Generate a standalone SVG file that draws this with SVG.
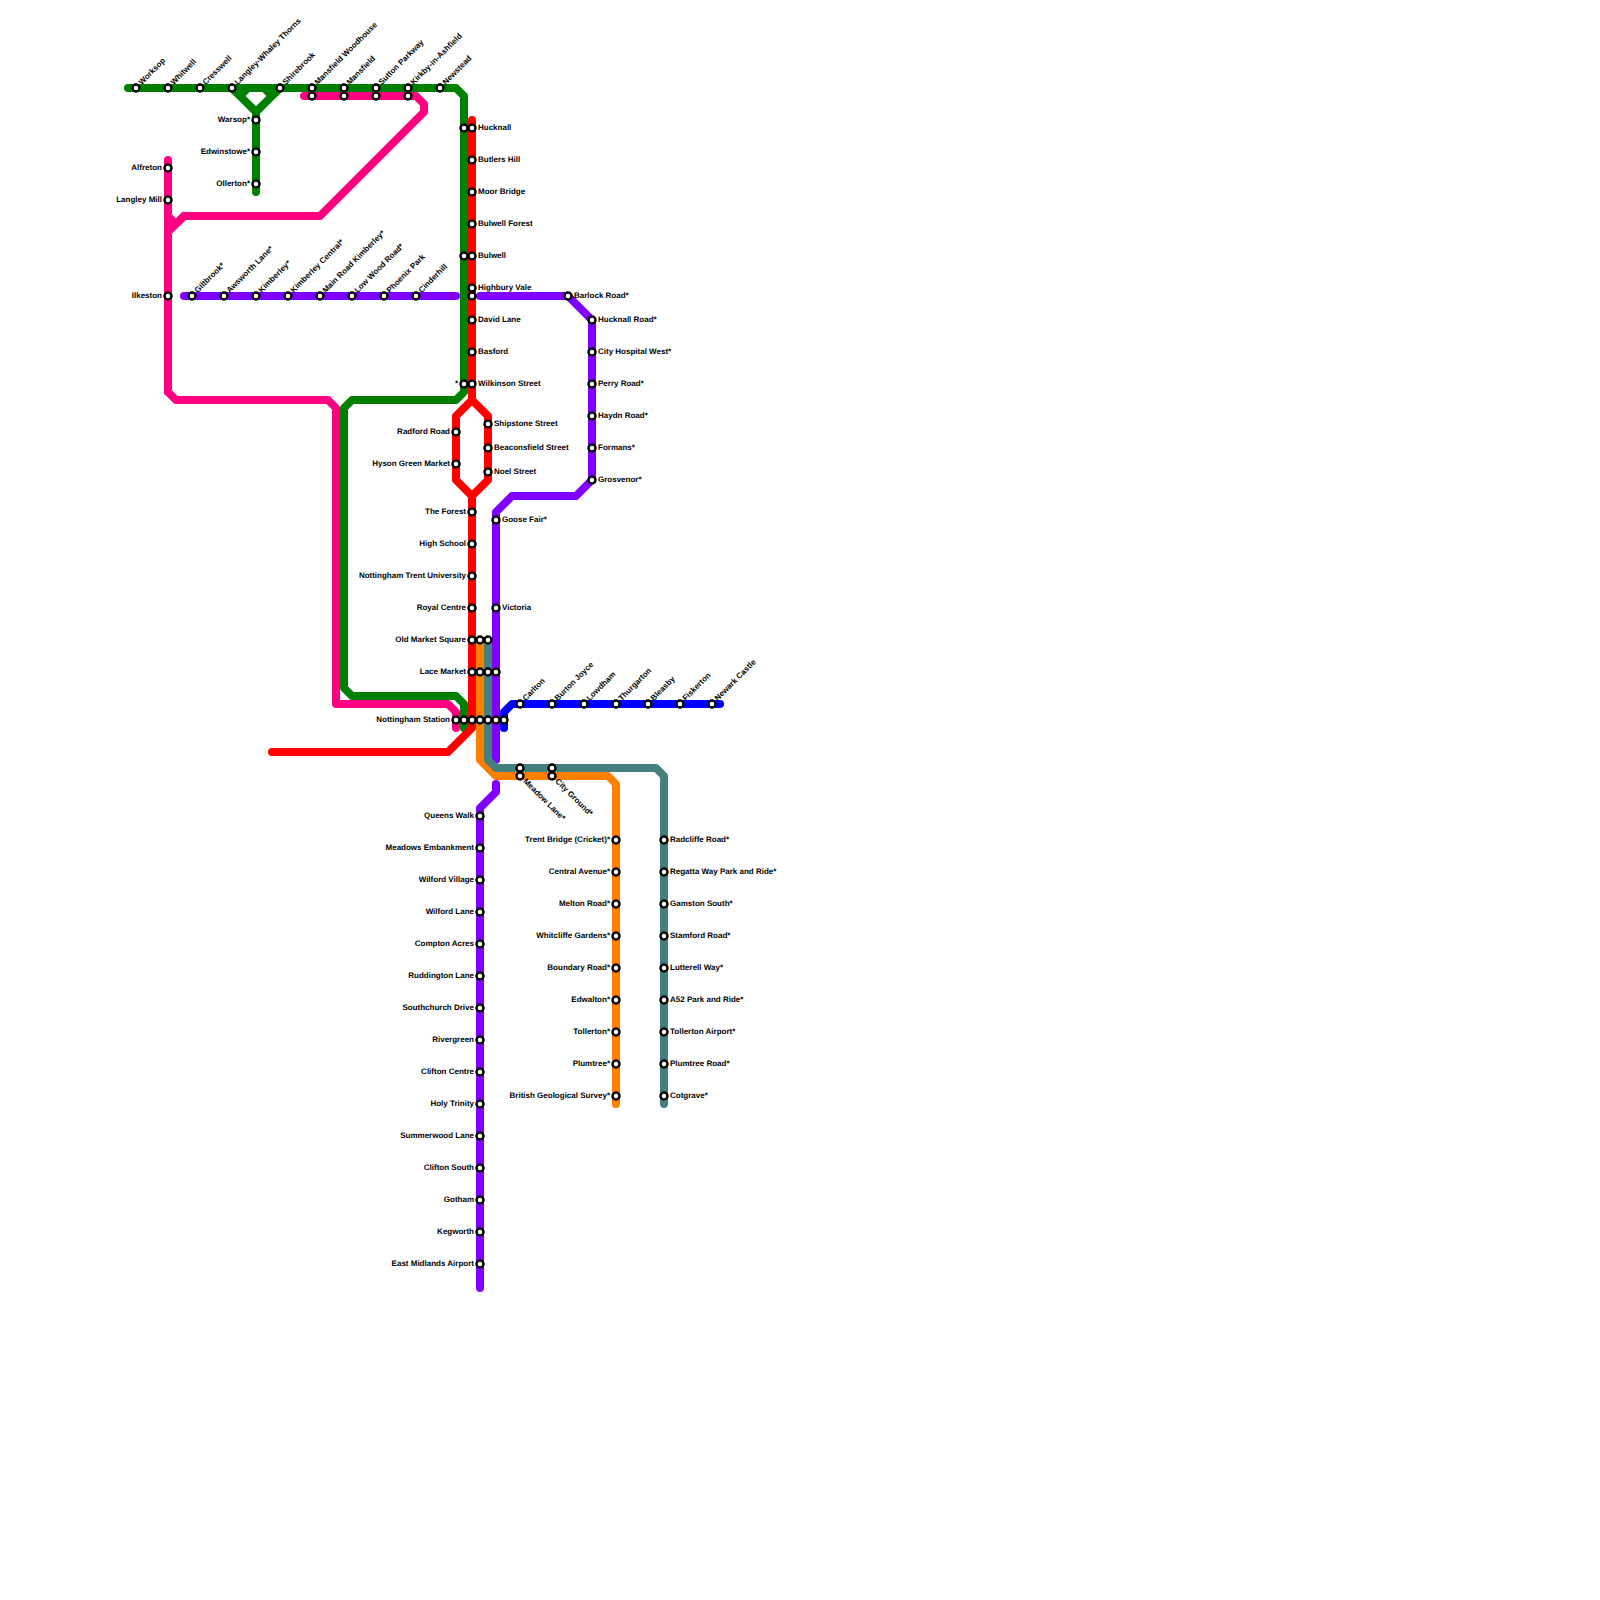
<svg xmlns="http://www.w3.org/2000/svg" width="1600" height="1600" viewBox="0 0 1600 1600">
<style>
text{font-family:"Liberation Sans",Arial,sans-serif;font-size:8px;font-weight:700;fill:#000;text-rendering:geometricPrecision}
.e{text-anchor:end}
.l{fill:none;stroke-width:8;stroke-linecap:round;stroke-linejoin:round}
circle{fill:#fff;stroke:#000;stroke-width:2.4}
</style>
<rect width="1600" height="1600" fill="#fff"/>
<g id="stars">
<text class="e" x="306" y="102">*</text><text class="e" x="338" y="102">*</text><text class="e" x="370" y="102">*</text><text class="e" x="402" y="102">*</text>
</g>
<g id="connectors">
<path class="l" stroke="#ff0080" d="M168 160V392L176 400H328L336 408V704H448L456 712V728"/>
<path class="l" stroke="#ff0080" d="M168 392V232L184 216H320L424 112V104L416 96H304"/>
<path class="l" stroke="#ff0080" d="M168 208V216L176 224L184 216"/>
<path class="l" stroke="#008000" d="M128 88H456L464 96V392L456 400H352L344 408V688L352 696H456L464 704V728"/>
<path class="l" stroke="#008000" d="M232 88L256 112V192M280 88L256 112"/>
<path class="l" stroke="#008000" d="M232 88L240 96L248 88M264 88L272 96L280 88"/>
<path class="l" stroke="#8000ff" d="M184 296H456"/>
<path class="l" stroke="#8000ff" d="M480 296H568L592 320V480L576 496H512L496 512V760"/>
<path class="l" stroke="#8000ff" d="M496 784V792L480 808V1288"/>
<path class="l" stroke="#ff0000" d="M472 120V400L456 416V480L472 496V728L448 752H272"/>
<path class="l" stroke="#ff0000" d="M472 400L488 416V480L472 496"/>
<path class="l" stroke="#ff8000" d="M480 640V760L496 776H608L616 784V1104"/>
<path class="l" stroke="#458080" d="M488 640V760L496 768H656L664 776V1104"/>
<path class="l" stroke="#0000ff" d="M504 728V712L512 704H720"/>
</g>
<g id="stations-north">
<g id="worksop"><circle cx="136" cy="88" r="3.5"/><text x="136" y="88" dx="6" dy="2" transform="rotate(-45 136 88)">Worksop</text></g>
<g id="whitwell"><circle cx="168" cy="88" r="3.5"/><text x="168" y="88" dx="6" dy="2" transform="rotate(-45 168 88)">Whitwell</text></g>
<g id="cresswell"><circle cx="200" cy="88" r="3.5"/><text x="200" y="88" dx="6" dy="2" transform="rotate(-45 200 88)">Cresswell</text></g>
<g id="langley-whaley"><circle cx="232" cy="88" r="3.5"/><text x="232" y="88" dx="6" dy="2" transform="rotate(-45 232 88)">Langley-Whaley Thorns</text></g>
<g id="shirebrook"><circle cx="280" cy="88" r="3.5"/><text x="280" y="88" dx="6" dy="2" transform="rotate(-45 280 88)">Shirebrook</text></g>
<g id="mansfield-woodhouse"><circle cx="312" cy="88" r="3.5"/><circle cx="312" cy="96" r="3.5"/><text x="312" y="88" dx="6" dy="2" transform="rotate(-45 312 88)">Mansfield Woodhouse</text></g>
<g id="mansfield"><circle cx="344" cy="88" r="3.5"/><circle cx="344" cy="96" r="3.5"/><text x="344" y="88" dx="6" dy="2" transform="rotate(-45 344 88)">Mansfield</text></g>
<g id="sutton-parkway"><circle cx="376" cy="88" r="3.5"/><circle cx="376" cy="96" r="3.5"/><text x="376" y="88" dx="6" dy="2" transform="rotate(-45 376 88)">Sutton Parkway</text></g>
<g id="kirkby"><circle cx="408" cy="88" r="3.5"/><circle cx="408" cy="96" r="3.5"/><text x="408" y="88" dx="6" dy="2" transform="rotate(-45 408 88)">Kirkby-in-Ashfield</text></g>
<g id="newstead"><circle cx="440" cy="88" r="3.5"/><text x="440" y="88" dx="6" dy="2" transform="rotate(-45 440 88)">Newstead</text></g>
<g id="warsop"><circle cx="256" cy="120" r="3.5"/><text class="e" x="250" y="122">Warsop*</text></g>
<g id="edwinstowe"><circle cx="256" cy="152" r="3.5"/><text class="e" x="250" y="154">Edwinstowe*</text></g>
<g id="ollerton"><circle cx="256" cy="184" r="3.5"/><text class="e" x="250" y="186">Ollerton*</text></g>
<g id="alfreton"><circle cx="168" cy="168" r="3.5"/><text class="e" x="162" y="170">Alfreton</text></g>
<g id="langley-mill"><circle cx="168" cy="200" r="3.5"/><text class="e" x="162" y="202">Langley Mill</text></g>
<g id="ilkeston"><circle cx="168" cy="296" r="3.5"/><text class="e" x="162" y="298">Ilkeston</text></g>
</g>
<g id="stations-west">
<g id="giltbrook"><circle cx="192" cy="296" r="3.5"/><text x="192" y="296" dx="6" dy="2" transform="rotate(-45 192 296)">Giltbrook*</text></g>
<g id="awsworth"><circle cx="224" cy="296" r="3.5"/><text x="224" y="296" dx="6" dy="2" transform="rotate(-45 224 296)">Awsworth Lane*</text></g>
<g id="kimberley"><circle cx="256" cy="296" r="3.5"/><text x="256" y="296" dx="6" dy="2" transform="rotate(-45 256 296)">Kimberley*</text></g>
<g id="kimberley-central"><circle cx="288" cy="296" r="3.5"/><text x="288" y="296" dx="6" dy="2" transform="rotate(-45 288 296)">Kimberley Central*</text></g>
<g id="main-road"><circle cx="320" cy="296" r="3.5"/><text x="320" y="296" dx="6" dy="2" transform="rotate(-45 320 296)">Main Road Kimberley*</text></g>
<g id="low-wood"><circle cx="352" cy="296" r="3.5"/><text x="352" y="296" dx="6" dy="2" transform="rotate(-45 352 296)">Low Wood Road*</text></g>
<g id="phoenix-park"><circle cx="384" cy="296" r="3.5"/><text x="384" y="296" dx="6" dy="2" transform="rotate(-45 384 296)">Phoenix Park</text></g>
<g id="cinderhill"><circle cx="416" cy="296" r="3.5"/><text x="416" y="296" dx="6" dy="2" transform="rotate(-45 416 296)">Cinderhill</text></g>
</g>
<g id="stations-red">
<g id="hucknall"><circle cx="464" cy="128" r="3.5"/><circle cx="472" cy="128" r="3.5"/><text x="478" y="130">Hucknall</text></g>
<g id="butlers-hill"><circle cx="472" cy="160" r="3.5"/><text x="478" y="162">Butlers Hill</text></g>
<g id="moor-bridge"><circle cx="472" cy="192" r="3.5"/><text x="478" y="194">Moor Bridge</text></g>
<g id="bulwell-forest"><circle cx="472" cy="224" r="3.5"/><text x="478" y="226">Bulwell Forest</text></g>
<g id="bulwell"><circle cx="464" cy="256" r="3.5"/><circle cx="472" cy="256" r="3.5"/><text x="478" y="258">Bulwell</text></g>
<g id="highbury-vale"><circle cx="472" cy="288" r="3.5"/><circle cx="472" cy="296" r="3.5"/><text x="478" y="290">Highbury Vale</text></g>
<g id="david-lane"><circle cx="472" cy="320" r="3.5"/><text x="478" y="322">David Lane</text></g>
<g id="basford"><circle cx="472" cy="352" r="3.5"/><text x="478" y="354">Basford</text></g>
<g id="wilkinson-street"><circle cx="464" cy="384" r="3.5"/><circle cx="472" cy="384" r="3.5"/><text x="478" y="386">Wilkinson Street</text><text class="e" x="458" y="386">*</text></g>
<g id="radford-road"><circle cx="456" cy="432" r="3.5"/><text class="e" x="450" y="434">Radford Road</text></g>
<g id="hyson-green"><circle cx="456" cy="464" r="3.5"/><text class="e" x="450" y="466">Hyson Green Market</text></g>
<g id="shipstone-street"><circle cx="488" cy="424" r="3.5"/><text x="494" y="426">Shipstone Street</text></g>
<g id="beaconsfield-street"><circle cx="488" cy="448" r="3.5"/><text x="494" y="450">Beaconsfield Street</text></g>
<g id="noel-street"><circle cx="488" cy="472" r="3.5"/><text x="494" y="474">Noel Street</text></g>
<g id="the-forest"><circle cx="472" cy="512" r="3.5"/><text class="e" x="466" y="514">The Forest</text></g>
<g id="high-school"><circle cx="472" cy="544" r="3.5"/><text class="e" x="466" y="546">High School</text></g>
<g id="ntu"><circle cx="472" cy="576" r="3.5"/><text class="e" x="466" y="578">Nottingham Trent University</text></g>
<g id="royal-centre"><circle cx="472" cy="608" r="3.5"/><text class="e" x="466" y="610">Royal Centre</text></g>
<g id="old-market-square"><circle cx="472" cy="640" r="3.5"/><circle cx="480" cy="640" r="3.5"/><circle cx="488" cy="640" r="3.5"/><text class="e" x="466" y="642">Old Market Square</text></g>
<g id="lace-market"><circle cx="472" cy="672" r="3.5"/><circle cx="480" cy="672" r="3.5"/><circle cx="488" cy="672" r="3.5"/><circle cx="496" cy="672" r="3.5"/><text class="e" x="466" y="674">Lace Market</text></g>
<g id="nottingham-station"><circle cx="456" cy="720" r="3.5"/><circle cx="464" cy="720" r="3.5"/><circle cx="472" cy="720" r="3.5"/><circle cx="480" cy="720" r="3.5"/><circle cx="488" cy="720" r="3.5"/><circle cx="496" cy="720" r="3.5"/><circle cx="504" cy="720" r="3.5"/><text class="e" x="450" y="722">Nottingham Station</text></g>
</g>
<g id="stations-purple">
<g id="barlock-road"><circle cx="568" cy="296" r="3.5"/><text x="574" y="298">Barlock Road*</text></g>
<g id="hucknall-road"><circle cx="592" cy="320" r="3.5"/><text x="598" y="322">Hucknall Road*</text></g>
<g id="city-hospital"><circle cx="592" cy="352" r="3.5"/><text x="598" y="354">City Hospital West*</text></g>
<g id="perry-road"><circle cx="592" cy="384" r="3.5"/><text x="598" y="386">Perry Road*</text></g>
<g id="haydn-road"><circle cx="592" cy="416" r="3.5"/><text x="598" y="418">Haydn Road*</text></g>
<g id="formans"><circle cx="592" cy="448" r="3.5"/><text x="598" y="450">Formans*</text></g>
<g id="grosvenor"><circle cx="592" cy="480" r="3.5"/><text x="598" y="482">Grosvenor*</text></g>
<g id="goose-fair"><circle cx="496" cy="520" r="3.5"/><text x="502" y="522">Goose Fair*</text></g>
<g id="victoria"><circle cx="496" cy="608" r="3.5"/><text x="502" y="610">Victoria</text></g>
<g id="queens-walk"><circle cx="480" cy="816" r="3.5"/><text class="e" x="474" y="818">Queens Walk</text></g>
<g id="meadows-embankment"><circle cx="480" cy="848" r="3.5"/><text class="e" x="474" y="850">Meadows Embankment</text></g>
<g id="wilford-village"><circle cx="480" cy="880" r="3.5"/><text class="e" x="474" y="882">Wilford Village</text></g>
<g id="wilford-lane"><circle cx="480" cy="912" r="3.5"/><text class="e" x="474" y="914">Wilford Lane</text></g>
<g id="compton-acres"><circle cx="480" cy="944" r="3.5"/><text class="e" x="474" y="946">Compton Acres</text></g>
<g id="ruddington-lane"><circle cx="480" cy="976" r="3.5"/><text class="e" x="474" y="978">Ruddington Lane</text></g>
<g id="southchurch-drive"><circle cx="480" cy="1008" r="3.5"/><text class="e" x="474" y="1010">Southchurch Drive</text></g>
<g id="rivergreen"><circle cx="480" cy="1040" r="3.5"/><text class="e" x="474" y="1042">Rivergreen</text></g>
<g id="clifton-centre"><circle cx="480" cy="1072" r="3.5"/><text class="e" x="474" y="1074">Clifton Centre</text></g>
<g id="holy-trinity"><circle cx="480" cy="1104" r="3.5"/><text class="e" x="474" y="1106">Holy Trinity</text></g>
<g id="summerwood-lane"><circle cx="480" cy="1136" r="3.5"/><text class="e" x="474" y="1138">Summerwood Lane</text></g>
<g id="clifton-south"><circle cx="480" cy="1168" r="3.5"/><text class="e" x="474" y="1170">Clifton South</text></g>
<g id="gotham"><circle cx="480" cy="1200" r="3.5"/><text class="e" x="474" y="1202">Gotham</text></g>
<g id="kegworth"><circle cx="480" cy="1232" r="3.5"/><text class="e" x="474" y="1234">Kegworth</text></g>
<g id="east-midlands-airport"><circle cx="480" cy="1264" r="3.5"/><text class="e" x="474" y="1266">East Midlands Airport</text></g>
</g>
<g id="stations-blue">
<g id="carlton"><circle cx="520" cy="704" r="3.5"/><text x="520" y="704" dx="6" dy="2" transform="rotate(-45 520 704)">Carlton</text></g>
<g id="burton-joyce"><circle cx="552" cy="704" r="3.5"/><text x="552" y="704" dx="6" dy="2" transform="rotate(-45 552 704)">Burton Joyce</text></g>
<g id="lowdham"><circle cx="584" cy="704" r="3.5"/><text x="584" y="704" dx="6" dy="2" transform="rotate(-45 584 704)">Lowdham</text></g>
<g id="thurgarton"><circle cx="616" cy="704" r="3.5"/><text x="616" y="704" dx="6" dy="2" transform="rotate(-45 616 704)">Thurgarton</text></g>
<g id="bleasby"><circle cx="648" cy="704" r="3.5"/><text x="648" y="704" dx="6" dy="2" transform="rotate(-45 648 704)">Bleasby</text></g>
<g id="fiskerton"><circle cx="680" cy="704" r="3.5"/><text x="680" y="704" dx="6" dy="2" transform="rotate(-45 680 704)">Fiskerton</text></g>
<g id="newark-castle"><circle cx="712" cy="704" r="3.5"/><text x="712" y="704" dx="6" dy="2" transform="rotate(-45 712 704)">Newark Castle</text></g>
</g>
<g id="stations-south">
<g id="meadow-lane"><circle cx="520" cy="768" r="3.5"/><circle cx="520" cy="776" r="3.5"/><text x="520" y="776" dx="6" dy="2" transform="rotate(45 520 776)">Meadow Lane*</text></g>
<g id="city-ground"><circle cx="552" cy="768" r="3.5"/><circle cx="552" cy="776" r="3.5"/><text x="552" y="776" dx="6" dy="2" transform="rotate(45 552 776)">City Ground*</text></g>
<g id="trent-bridge"><circle cx="616" cy="840" r="3.5"/><text class="e" x="610" y="842">Trent Bridge (Cricket)*</text></g>
<g id="central-avenue"><circle cx="616" cy="872" r="3.5"/><text class="e" x="610" y="874">Central Avenue*</text></g>
<g id="melton-road"><circle cx="616" cy="904" r="3.5"/><text class="e" x="610" y="906">Melton Road*</text></g>
<g id="whitcliffe-gardens"><circle cx="616" cy="936" r="3.5"/><text class="e" x="610" y="938">Whitcliffe Gardens*</text></g>
<g id="boundary-road"><circle cx="616" cy="968" r="3.5"/><text class="e" x="610" y="970">Boundary Road*</text></g>
<g id="edwalton"><circle cx="616" cy="1000" r="3.5"/><text class="e" x="610" y="1002">Edwalton*</text></g>
<g id="tollerton"><circle cx="616" cy="1032" r="3.5"/><text class="e" x="610" y="1034">Tollerton*</text></g>
<g id="plumtree"><circle cx="616" cy="1064" r="3.5"/><text class="e" x="610" y="1066">Plumtree*</text></g>
<g id="british-geological-survey"><circle cx="616" cy="1096" r="3.5"/><text class="e" x="610" y="1098">British Geological Survey*</text></g>
<g id="radcliffe-road"><circle cx="664" cy="840" r="3.5"/><text x="670" y="842">Radcliffe Road*</text></g>
<g id="regatta-way"><circle cx="664" cy="872" r="3.5"/><text x="670" y="874">Regatta Way Park and Ride*</text></g>
<g id="gamston-south"><circle cx="664" cy="904" r="3.5"/><text x="670" y="906">Gamston South*</text></g>
<g id="stamford-road"><circle cx="664" cy="936" r="3.5"/><text x="670" y="938">Stamford Road*</text></g>
<g id="lutterell-way"><circle cx="664" cy="968" r="3.5"/><text x="670" y="970">Lutterell Way*</text></g>
<g id="a52-park-ride"><circle cx="664" cy="1000" r="3.5"/><text x="670" y="1002">A52 Park and Ride*</text></g>
<g id="tollerton-airport"><circle cx="664" cy="1032" r="3.5"/><text x="670" y="1034">Tollerton Airport*</text></g>
<g id="plumtree-road"><circle cx="664" cy="1064" r="3.5"/><text x="670" y="1066">Plumtree Road*</text></g>
<g id="cotgrave"><circle cx="664" cy="1096" r="3.5"/><text x="670" y="1098">Cotgrave*</text></g>
</g>
</svg>
